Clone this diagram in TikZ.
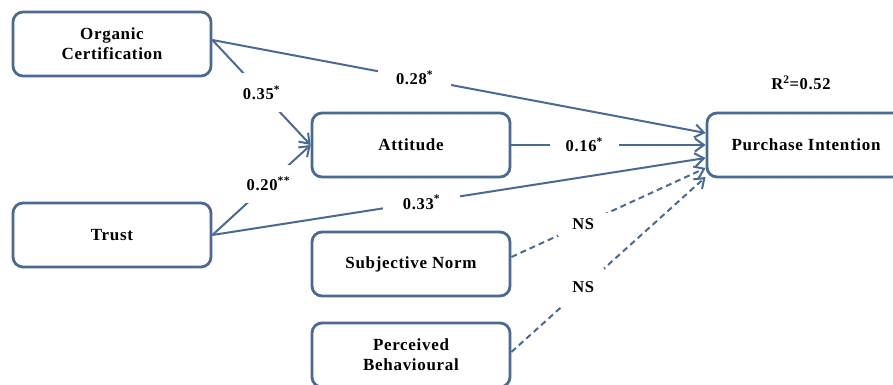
\documentclass[tikz,border=0pt]{standalone}
\usepackage{fontspec}
\setmainfont[LetterSpace=4]{Liberation Serif}
\usetikzlibrary{arrows.meta}
\definecolor{bordo}{RGB}{74,106,148}
\begin{document}
\begin{tikzpicture}[x=1pt, y=-1pt,
    fattore/.style={draw=bordo, line width=2.8pt, rounded corners=10pt, minimum width=198pt, minimum height=64pt, align=center, inner sep=0pt, font=\fontsize{17}{20}\selectfont\bfseries},
    freccia/.style={draw=bordo, line width=2pt, -{Straight Barb[length=9pt,width=13pt]}},
    nonsig/.style={freccia, dash pattern=on 6pt off 4pt},
    coef/.style={fill=white, inner sep=2pt, font=\fontsize{16.5}{18}\selectfont\bfseries}]
    \useasboundingbox (0,0) rectangle (893,385);
    \clip (0,0) rectangle (893,385);
    %fattori
    \node[fattore] (org) at (112,44) {Organic\\Certification};
    \node[fattore] (trust) at (112,235) {Trust};
    \node[fattore] (att) at (411,145) {Attitude};
    \node[fattore] (pi) at (806,145) {Purchase Intention};
    \node[fattore] (sn) at (411,264) {Subjective Norm};
    \node[fattore] (pb) at (411,355) {Perceived\\Behavioural};
    %R quadro
    \node[coef] (rq) at (801,83) {R\textsuperscript{2}=0.52};
    %frecce verso attitude
    \draw[freccia] ([yshift=4pt]org.east) -- (att.west) node[coef, pos=0.5, inner ysep=12pt] {0.35\textsuperscript{*}};
    \draw[freccia] (trust.east) -- (att.west) node[coef, pos=0.57, inner ysep=12pt] {0.20\textsuperscript{**}};
    %frecce verso purchase intention
    \draw[freccia] ([yshift=4pt]org.east) -- ([yshift=12pt]pi.west) node[coef, pos=0.41, inner xsep=18pt] {0.28\textsuperscript{*}};
    \draw[freccia] (att.east) -- (pi.west) node[coef, pos=0.375, inner xsep=16pt] {0.16\textsuperscript{*}};
    \draw[freccia] (trust.east) -- ([yshift=-13pt]pi.west) node[coef, pos=0.424, inner xsep=20pt] {0.33\textsuperscript{*}};
    %frecce tratteggiate
    \draw[nonsig] ([yshift=7pt]sn.east) -- ([yshift=-23pt]pi.west) node[coef, pos=0.37, inner xsep=14pt, inner ysep=6pt] {NS};
    \draw[nonsig] ([yshift=3pt]pb.east) -- ([yshift=-32pt]pi.west) node[coef, pos=0.37, inner xsep=10pt, inner ysep=14pt] {NS};
\end{tikzpicture}
\end{document}
